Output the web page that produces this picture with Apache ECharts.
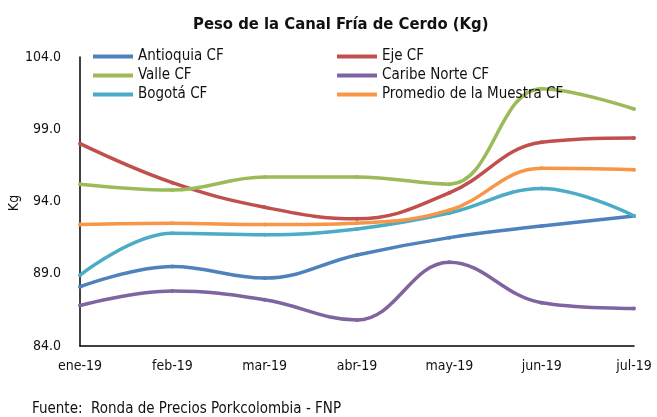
<!DOCTYPE html>
<html>
<head>
<meta charset="utf-8">
<script src="https://cdn.jsdelivr.net/npm/echarts@6/dist/echarts.min.js"></script>
<style>
  html, body { margin: 0; padding: 0; background: #fff; }
  #main { width: 657px; height: 417px; }
</style>
</head>
<body>
<div id="main"></div>
<script>
var months = ['ene-19', 'feb-19', 'mar-19', 'abr-19', 'may-19', 'jun-19', 'jul-19'];
var antioquia = [88.1, 89.5, 88.7, 90.3, 91.5, 92.3, 93.0];
var eje = [98.0, 95.3, 93.6, 92.8, 94.6, 98.1, 98.4];
var valle = [95.2, 94.8, 95.7, 95.7, 95.2, 101.8, 100.4];
var caribe = [86.8, 87.8, 87.2, 85.8, 89.8, 87.0, 86.6];
var bogota = [88.9, 91.8, 91.7, 92.1, 93.2, 94.9, 93.0];
var promedio = [92.4, 92.5, 92.4, 92.5, 93.4, 96.3, 96.2];
var yTicks = [84, 89, 94, 99, 104];

var font = "'Liberation Sans Narrow', 'DejaVu Sans Condensed', sans-serif";

function line(name, data, color) {
    return {
        name: name,
        type: 'line',
        data: data,
        smooth: 0.4,
        symbol: 'circle',
        symbolSize: 4,
        lineStyle: { color: color, width: 3.5 },
        itemStyle: { color: color },
        emphasis: { disabled: true }
    };
}

var legendText = { fontFamily: font, fontSize: 15, color: '#111' };

var myChart = echarts.init(document.getElementById('main'));
var option = {
    backgroundColor: '#fff',
    animation: false,
    textStyle: { fontFamily: font },
    title: {
        text: 'Peso de la Canal Fría de Cerdo (Kg)',
        left: 188,
        top: 11,
        textStyle: { fontFamily: font, fontSize: 16.5, fontWeight: 'bold', color: '#111' }
    },
    legend: [
        {
            data: ['Antioquia CF', 'Valle CF', 'Bogotá CF'],
            orient: 'vertical',
            left: 88,
            top: 44,
            itemGap: 4,
            itemWidth: 40,
            itemHeight: 4,
            icon: 'rect',
            textStyle: legendText
        },
        {
            data: ['Eje CF', 'Caribe Norte CF', 'Promedio de la Muestra CF'],
            orient: 'vertical',
            left: 332,
            top: 44,
            itemGap: 4,
            itemWidth: 40,
            itemHeight: 4,
            icon: 'rect',
            textStyle: legendText
        }
    ],
    grid: { left: 80, right: 23, top: 57, bottom: 71, outerBoundsMode: 'none' },
    xAxis: {
        type: 'category',
        data: months,
        boundaryGap: false,
        axisLine: { lineStyle: { color: '#000', width: 1.5 } },
        axisTick: { show: false },
        axisLabel: { color: '#111', fontSize: 14, margin: 13, fontFamily: font }
    },
    yAxis: {
        type: 'value',
        min: yTicks[0],
        max: yTicks[yTicks.length - 1],
        interval: 5,
        axisLine: { show: true, lineStyle: { color: '#000', width: 1.5 } },
        axisTick: { show: false },
        splitLine: { show: false },
        axisLabel: {
            color: '#111',
            fontSize: 14,
            margin: 19,
            fontFamily: font,
            formatter: function (v) { return v.toFixed(1); }
        }
    },
    graphic: [
        {
            type: 'text',
            x: 14,
            y: 203,
            rotation: Math.PI / 2,
            style: {
                text: 'Kg',
                fill: '#111',
                font: '14px ' + font,
                align: 'center',
                verticalAlign: 'middle'
            }
        },
        {
            type: 'text',
            left: 32,
            top: 402,
            style: {
                text: 'Fuente:  Ronda de Precios Porkcolombia - FNP',
                fill: '#111',
                font: '15px ' + font
            }
        }
    ],
    series: [
        line('Antioquia CF', antioquia, '#4F81BD'),
        line('Eje CF', eje, '#C0504D'),
        line('Valle CF', valle, '#9BBB59'),
        line('Caribe Norte CF', caribe, '#8064A2'),
        line('Bogotá CF', bogota, '#4BACC6'),
        line('Promedio de la Muestra CF', promedio, '#F79646')
    ]
};
myChart.setOption(option);
</script>
</body>
</html>
